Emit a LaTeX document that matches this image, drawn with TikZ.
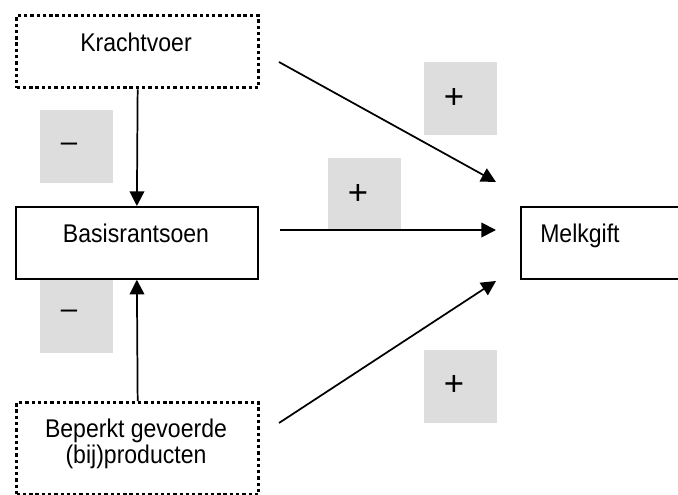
\documentclass[tikz,border=0pt]{standalone}
\usepackage{fontspec}
\setmainfont[FakeStretch=0.9]{Liberation Sans}
\newfontfamily\signfont{Liberation Sans}
\usetikzlibrary{arrows.meta}
\definecolor{signgrey}{HTML}{DDDDDD}
\tikzset{
  px/.style={x=0.75pt,y=-0.75pt},
  dotbox/.style={draw,line width=2.5pt,dash pattern=on 2.5pt off 2.2pt,inner sep=0pt,anchor=north west},
  solidbox/.style={draw,line width=1.3pt,inner sep=0pt,anchor=north west},
  signbox/.style={fill=signgrey,inner sep=0pt,anchor=north west,minimum width=54.75pt,minimum height=54.75pt},
  lbl/.style={font=\fontsize{19.2}{23}\selectfont,inner sep=0pt,anchor=base},
  plussign/.style={font=\signfont\fontsize{26}{30}\selectfont,inner sep=0pt,anchor=base},
  minussign/.style={font=\signfont\fontsize{22}{26}\selectfont,inner sep=0pt,anchor=base},
  arr/.style={line width=1.3pt,-{Triangle[length=11pt,width=11pt]}}
}
\begin{document}
\begin{tikzpicture}[px]
\useasboundingbox (0,0) rectangle (678,495);
% boxes
\node[dotbox,minimum width=181.5pt,minimum height=54pt] (kv) at (15,14) {};
\node[solidbox,minimum width=181.5pt,minimum height=54pt] (br) at (15,206) {};
\node[dotbox,minimum width=181.5pt,minimum height=69pt] (bp) at (15,401) {};
\node[solidbox,minimum width=120pt,minimum height=54pt] (mg) at (520,206) {};
% texts
\node[lbl] (kvt) at (136,52) {Krachtvoer};
\node[lbl] (brt) at (136,243) {Basisrantsoen};
\node[lbl,anchor=base west] (mgt) at (540,243) {Melkgift};
\node[lbl] (bpt1) at (136,437) {Beperkt gevoerde};
\node[lbl] (bpt2) at (136,463) {(bij)producten};
% sign boxes
\node[signbox] (m1) at (40,110) {};
\node[signbox] (m2) at (40,280) {};
\node[signbox] (p1) at (424,62) {};
\node[signbox] (p2) at (328,158) {};
\node[signbox] (p3) at (424,350) {};
\node[minussign] (m1t) at (69,152) {–};
\node[minussign] (m2t) at (69,319) {–};
\node[plussign] (p1t) at (454,109) {+};
\node[plussign] (p2t) at (358,205) {+};
\node[plussign] (p3t) at (454,395) {+};
% connector ends
\coordinate (a1s) at (279,62);
\coordinate (a1e) at (496,182);
\coordinate (a2s) at (280,230);
\coordinate (a2e) at (496,230);
\coordinate (a3s) at (279,423);
\coordinate (a3e) at (496,281);
% arrows
\draw[arr] (kv.south) -- (br.north);
\draw[arr] (bp.north) -- (br.south);
\draw[arr] (a1s) -- (a1e);
\draw[arr] (a2s) -- (a2e);
\draw[arr] (a3s) -- (a3e);
\end{tikzpicture}
\end{document}
